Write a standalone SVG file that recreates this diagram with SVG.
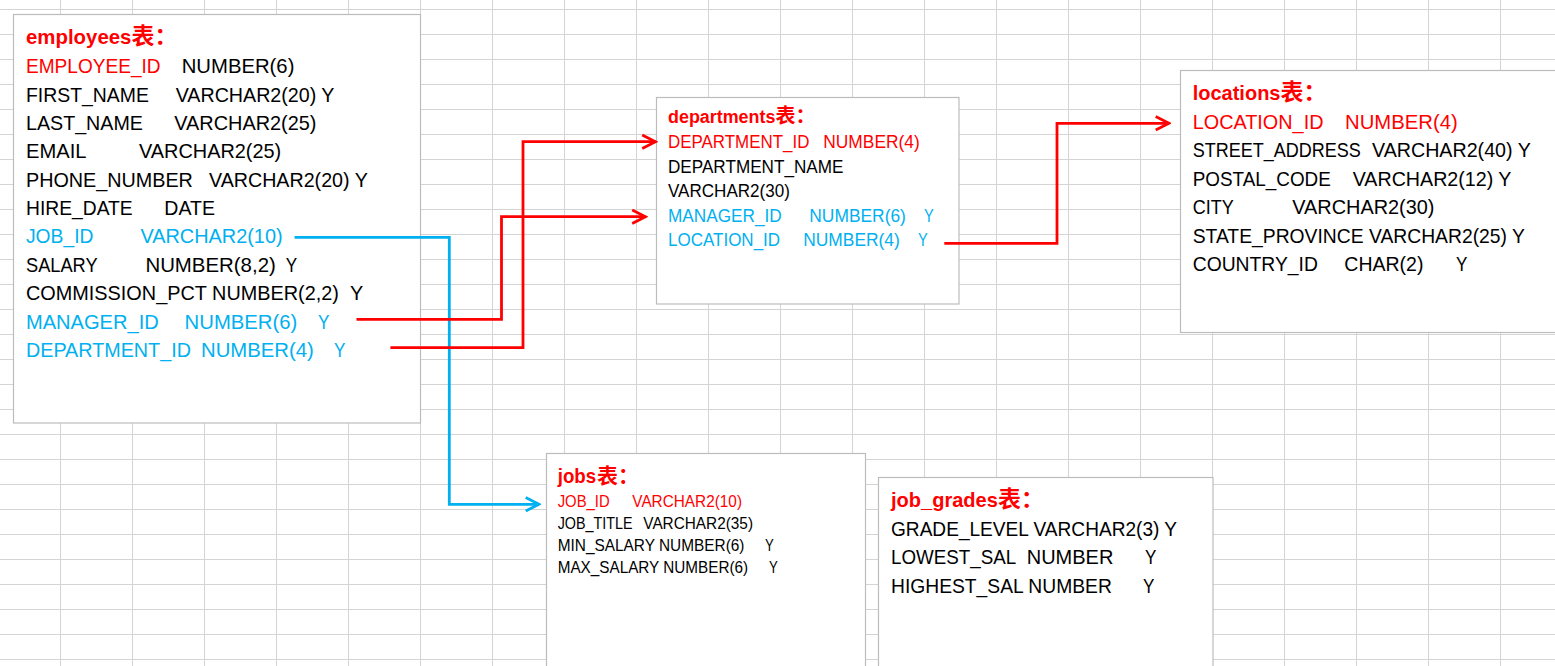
<svg xmlns="http://www.w3.org/2000/svg" width="1555" height="666" viewBox="0 0 1555 666">
<style>
.grid line{stroke:#d4d4d4;stroke-width:1}
.box{fill:#fff;stroke:#bcbcbc;stroke-width:1.2}
text{font-family:"Liberation Sans",Arial,sans-serif}
.f23{font-size:21px}
.f20{font-size:18px}
.f18{font-size:16.2px}
.b{font-weight:bold}
.cjk{font-family:"Noto Sans CJK SC","Noto Sans CJK JP",sans-serif;font-weight:bold}
.r{fill:#ff0000}
.u{fill:#00b0f0}
.k{fill:#000}
.cr{fill:none;stroke:#ff0000;stroke-width:2.8;stroke-linejoin:miter}
.cb{fill:none;stroke:#00b0f0;stroke-width:2.8;stroke-linejoin:miter}
</style>
<defs>
<marker id="ar" markerUnits="userSpaceOnUse" viewBox="-16 -9 18 18" refX="0" refY="0" markerWidth="18" markerHeight="18" orient="auto">
<path d="M-13.3,-6.7 L0,0 L-13.3,6.7" fill="none" stroke="#ff0000" stroke-width="2.8"/>
</marker>
<marker id="ab" markerUnits="userSpaceOnUse" viewBox="-16 -9 18 18" refX="0" refY="0" markerWidth="18" markerHeight="18" orient="auto">
<path d="M-13.3,-6.7 L0,0 L-13.3,6.7" fill="none" stroke="#00b0f0" stroke-width="2.8"/>
</marker>
</defs>
<rect x="0" y="0" width="1555" height="666" fill="#fff"/>
<g class="grid">
<line x1="60.5" y1="0" x2="60.5" y2="666"/>
<line x1="132.5" y1="0" x2="132.5" y2="666"/>
<line x1="204.5" y1="0" x2="204.5" y2="666"/>
<line x1="276.5" y1="0" x2="276.5" y2="666"/>
<line x1="348.5" y1="0" x2="348.5" y2="666"/>
<line x1="420.5" y1="0" x2="420.5" y2="666"/>
<line x1="492.5" y1="0" x2="492.5" y2="666"/>
<line x1="564.5" y1="0" x2="564.5" y2="666"/>
<line x1="636.5" y1="0" x2="636.5" y2="666"/>
<line x1="708.5" y1="0" x2="708.5" y2="666"/>
<line x1="780.5" y1="0" x2="780.5" y2="666"/>
<line x1="852.5" y1="0" x2="852.5" y2="666"/>
<line x1="924.5" y1="0" x2="924.5" y2="666"/>
<line x1="996.5" y1="0" x2="996.5" y2="666"/>
<line x1="1068.5" y1="0" x2="1068.5" y2="666"/>
<line x1="1140.5" y1="0" x2="1140.5" y2="666"/>
<line x1="1212.5" y1="0" x2="1212.5" y2="666"/>
<line x1="1284.5" y1="0" x2="1284.5" y2="666"/>
<line x1="1356.5" y1="0" x2="1356.5" y2="666"/>
<line x1="1428.5" y1="0" x2="1428.5" y2="666"/>
<line x1="1500.5" y1="0" x2="1500.5" y2="666"/>
<line x1="0" y1="9.5" x2="1555" y2="9.5"/>
<line x1="0" y1="34.5" x2="1555" y2="34.5"/>
<line x1="0" y1="59.5" x2="1555" y2="59.5"/>
<line x1="0" y1="84.5" x2="1555" y2="84.5"/>
<line x1="0" y1="109.5" x2="1555" y2="109.5"/>
<line x1="0" y1="134.5" x2="1555" y2="134.5"/>
<line x1="0" y1="159.5" x2="1555" y2="159.5"/>
<line x1="0" y1="184.5" x2="1555" y2="184.5"/>
<line x1="0" y1="209.5" x2="1555" y2="209.5"/>
<line x1="0" y1="234.5" x2="1555" y2="234.5"/>
<line x1="0" y1="259.5" x2="1555" y2="259.5"/>
<line x1="0" y1="284.5" x2="1555" y2="284.5"/>
<line x1="0" y1="309.5" x2="1555" y2="309.5"/>
<line x1="0" y1="334.5" x2="1555" y2="334.5"/>
<line x1="0" y1="359.5" x2="1555" y2="359.5"/>
<line x1="0" y1="384.5" x2="1555" y2="384.5"/>
<line x1="0" y1="409.5" x2="1555" y2="409.5"/>
<line x1="0" y1="434.5" x2="1555" y2="434.5"/>
<line x1="0" y1="459.5" x2="1555" y2="459.5"/>
<line x1="0" y1="484.5" x2="1555" y2="484.5"/>
<line x1="0" y1="509.5" x2="1555" y2="509.5"/>
<line x1="0" y1="534.5" x2="1555" y2="534.5"/>
<line x1="0" y1="559.5" x2="1555" y2="559.5"/>
<line x1="0" y1="584.5" x2="1555" y2="584.5"/>
<line x1="0" y1="609.5" x2="1555" y2="609.5"/>
<line x1="0" y1="634.5" x2="1555" y2="634.5"/>
<line x1="0" y1="659.5" x2="1555" y2="659.5"/>
</g>

<g id="employees">
<rect class="box" x="13.5" y="14.5" width="407" height="408.5"/>
<text class="f23 b r" x="26" y="44" textLength="105.4" lengthAdjust="spacingAndGlyphs">employees</text>
<text class="cjk r" style="font-size:23px" x="131.4" y="44">表：</text>
<text class="f23 r" x="26" y="73.3" textLength="134.6" lengthAdjust="spacingAndGlyphs">EMPLOYEE_ID</text>
<text class="f23 k" x="181.7" y="73.3" textLength="112.7" lengthAdjust="spacingAndGlyphs">NUMBER(6)</text>
<text class="f23 k" x="26" y="101.7" textLength="122.9" lengthAdjust="spacingAndGlyphs">FIRST_NAME</text>
<text class="f23 k" x="175.7" y="101.7" textLength="158.8" lengthAdjust="spacingAndGlyphs">VARCHAR2(20) Y</text>
<text class="f23 k" x="26" y="130" textLength="116.9" lengthAdjust="spacingAndGlyphs">LAST_NAME</text>
<text class="f23 k" x="174.3" y="130" textLength="142.2" lengthAdjust="spacingAndGlyphs">VARCHAR2(25)</text>
<text class="f23 k" x="26" y="158.4" textLength="60.5" lengthAdjust="spacingAndGlyphs">EMAIL</text>
<text class="f23 k" x="139" y="158.4" textLength="142.2" lengthAdjust="spacingAndGlyphs">VARCHAR2(25)</text>
<text class="f23 k" x="26" y="186.7" textLength="166.9" lengthAdjust="spacingAndGlyphs">PHONE_NUMBER</text>
<text class="f23 k" x="209" y="186.7" textLength="158.8" lengthAdjust="spacingAndGlyphs">VARCHAR2(20) Y</text>
<text class="f23 k" x="26" y="215.1" textLength="106.7" lengthAdjust="spacingAndGlyphs">HIRE_DATE</text>
<text class="f23 k" x="164.3" y="215.1" textLength="50.6" lengthAdjust="spacingAndGlyphs">DATE</text>
<text class="f23 u" x="26" y="243.4" textLength="67.4" lengthAdjust="spacingAndGlyphs">JOB_ID</text>
<text class="f23 u" x="140.4" y="243.4" textLength="142.2" lengthAdjust="spacingAndGlyphs">VARCHAR2(10)</text>
<text class="f23 k" x="26" y="271.8" textLength="71.6" lengthAdjust="spacingAndGlyphs">SALARY</text>
<text class="f23 k" x="145.4" y="271.8" textLength="130.4" lengthAdjust="spacingAndGlyphs">NUMBER(8,2)</text>
<text class="f23 k" x="285.7" y="271.8" textLength="11.4" lengthAdjust="spacingAndGlyphs">Y</text>
<text class="f23 k" x="26" y="300.1" textLength="337.2" lengthAdjust="spacingAndGlyphs">COMMISSION_PCT NUMBER(2,2)&#160;&#160;Y</text>
<text class="f23 u" x="26" y="328.5" textLength="132.7" lengthAdjust="spacingAndGlyphs">MANAGER_ID</text>
<text class="f23 u" x="184.6" y="328.5" textLength="112.7" lengthAdjust="spacingAndGlyphs">NUMBER(6)</text>
<text class="f23 u" x="317.9" y="328.5" textLength="11.4" lengthAdjust="spacingAndGlyphs">Y</text>
<text class="f23 u" x="26" y="356.8" textLength="164.9" lengthAdjust="spacingAndGlyphs">DEPARTMENT_ID</text>
<text class="f23 u" x="201" y="356.8" textLength="112.7" lengthAdjust="spacingAndGlyphs">NUMBER(4)</text>
<text class="f23 u" x="334" y="356.8" textLength="11.4" lengthAdjust="spacingAndGlyphs">Y</text>
</g>

<g id="departments">
<rect class="box" x="656.5" y="97.5" width="302.5" height="206.5"/>
<text class="f20 b r" x="668" y="123" textLength="107.4" lengthAdjust="spacingAndGlyphs">departments</text>
<text class="cjk r" style="font-size:20px" x="775.4" y="123">表：</text>
<text class="f20 r" x="668" y="148.3" textLength="141.4" lengthAdjust="spacingAndGlyphs">DEPARTMENT_ID</text>
<text class="f20 r" x="823.2" y="148.3" textLength="96.6" lengthAdjust="spacingAndGlyphs">NUMBER(4)</text>
<text class="f20 k" x="668" y="172.6" textLength="175.4" lengthAdjust="spacingAndGlyphs">DEPARTMENT_NAME</text>
<text class="f20 k" x="668" y="197" textLength="121.9" lengthAdjust="spacingAndGlyphs">VARCHAR2(30)</text>
<text class="f20 u" x="668" y="221.5" textLength="113.7" lengthAdjust="spacingAndGlyphs">MANAGER_ID</text>
<text class="f20 u" x="809.3" y="221.5" textLength="96.6" lengthAdjust="spacingAndGlyphs">NUMBER(6)</text>
<text class="f20 u" x="924" y="221.5" textLength="9.7" lengthAdjust="spacingAndGlyphs">Y</text>
<text class="f20 u" x="668" y="246" textLength="112.1" lengthAdjust="spacingAndGlyphs">LOCATION_ID</text>
<text class="f20 u" x="803.2" y="246" textLength="96.6" lengthAdjust="spacingAndGlyphs">NUMBER(4)</text>
<text class="f20 u" x="917.9" y="246" textLength="9.7" lengthAdjust="spacingAndGlyphs">Y</text>
</g>

<g id="locations">
<rect class="box" x="1180.5" y="70.5" width="400" height="262"/>
<text class="f23 b r" x="1192.7" y="99.5" textLength="87.8" lengthAdjust="spacingAndGlyphs">locations</text>
<text class="cjk r" style="font-size:23px" x="1280.5" y="99.5">表：</text>
<text class="f23 r" x="1192.7" y="129" textLength="130.8" lengthAdjust="spacingAndGlyphs">LOCATION_ID</text>
<text class="f23 r" x="1345" y="129" textLength="112.7" lengthAdjust="spacingAndGlyphs">NUMBER(4)</text>
<text class="f23 k" x="1192.7" y="157.4" textLength="168.2" lengthAdjust="spacingAndGlyphs">STREET_ADDRESS</text>
<text class="f23 k" x="1372" y="157.4" textLength="158.8" lengthAdjust="spacingAndGlyphs">VARCHAR2(40) Y</text>
<text class="f23 k" x="1192.7" y="185.8" textLength="138.1" lengthAdjust="spacingAndGlyphs">POSTAL_CODE</text>
<text class="f23 k" x="1352.7" y="185.8" textLength="158.8" lengthAdjust="spacingAndGlyphs">VARCHAR2(12) Y</text>
<text class="f23 k" x="1192.7" y="214.2" textLength="41" lengthAdjust="spacingAndGlyphs">CITY</text>
<text class="f23 k" x="1292.3" y="214.2" textLength="142.2" lengthAdjust="spacingAndGlyphs">VARCHAR2(30)</text>
<text class="f23 k" x="1192.7" y="242.6" textLength="332.2" lengthAdjust="spacingAndGlyphs">STATE_PROVINCE VARCHAR2(25) Y</text>
<text class="f23 k" x="1192.7" y="271" textLength="125.2" lengthAdjust="spacingAndGlyphs">COUNTRY_ID</text>
<text class="f23 k" x="1344.3" y="271" textLength="79.1" lengthAdjust="spacingAndGlyphs">CHAR(2)</text>
<text class="f23 k" x="1456" y="271" textLength="11.4" lengthAdjust="spacingAndGlyphs">Y</text>
</g>

<g id="jobs">
<rect class="box" x="546.5" y="453.5" width="319" height="300"/>
<text class="f23 b r" style="font-size:19.8px" x="557.7" y="482.7" textLength="38.5" lengthAdjust="spacingAndGlyphs">jobs</text>
<text class="cjk r" style="font-size:21px" x="597" y="482.7">表：</text>
<text class="f18 r" x="557.7" y="506.7" textLength="52" lengthAdjust="spacingAndGlyphs">JOB_ID</text>
<text class="f18 r" x="632.3" y="506.7" textLength="109.7" lengthAdjust="spacingAndGlyphs">VARCHAR2(10)</text>
<text class="f18 k" x="557.7" y="529" textLength="74.8" lengthAdjust="spacingAndGlyphs">JOB_TITLE</text>
<text class="f18 k" x="643.3" y="529" textLength="109.7" lengthAdjust="spacingAndGlyphs">VARCHAR2(35)</text>
<text class="f18 k" x="557.7" y="551.2" textLength="186.8" lengthAdjust="spacingAndGlyphs">MIN_SALARY NUMBER(6)</text>
<text class="f18 k" x="765" y="551.2" textLength="8.8" lengthAdjust="spacingAndGlyphs">Y</text>
<text class="f18 k" x="557.7" y="573.4" textLength="190.4" lengthAdjust="spacingAndGlyphs">MAX_SALARY NUMBER(6)</text>
<text class="f18 k" x="769" y="573.4" textLength="8.8" lengthAdjust="spacingAndGlyphs">Y</text>
</g>

<g id="job_grades">
<rect class="box" x="878.5" y="477.5" width="334.5" height="300"/>
<text class="f23 b r" x="891" y="506.7" textLength="106.9" lengthAdjust="spacingAndGlyphs">job_grades</text>
<text class="cjk r" style="font-size:23px" x="997.9" y="506.7">表：</text>
<text class="f23 k" x="891" y="536" textLength="286.1" lengthAdjust="spacingAndGlyphs">GRADE_LEVEL VARCHAR2(3) Y</text>
<text class="f23 k" x="891" y="564.3" textLength="125.1" lengthAdjust="spacingAndGlyphs">LOWEST_SAL</text>
<text class="f23 k" x="1026.7" y="564.3" textLength="86.7" lengthAdjust="spacingAndGlyphs">NUMBER</text>
<text class="f23 k" x="1145" y="564.3" textLength="11.4" lengthAdjust="spacingAndGlyphs">Y</text>
<text class="f23 k" x="891" y="592.7" textLength="220.8" lengthAdjust="spacingAndGlyphs">HIGHEST_SAL NUMBER</text>
<text class="f23 k" x="1143" y="592.7" textLength="11.4" lengthAdjust="spacingAndGlyphs">Y</text>
</g>

<g id="connectors">
<polyline class="cb" points="294.6,237.3 449.3,237.3 449.3,504.3 539,504.3" marker-end="url(#ab)"/>
<polyline class="cr" points="356.5,319.3 501.5,319.3 501.5,216.7 645.5,216.7" marker-end="url(#ar)"/>
<polyline class="cr" points="390.4,347.7 523,347.7 523,141.7 655.5,141.7" marker-end="url(#ar)"/>
<polyline class="cr" points="944.3,243.3 1057,243.3 1057,123.3 1169,123.3" marker-end="url(#ar)"/>
</g>
</svg>
